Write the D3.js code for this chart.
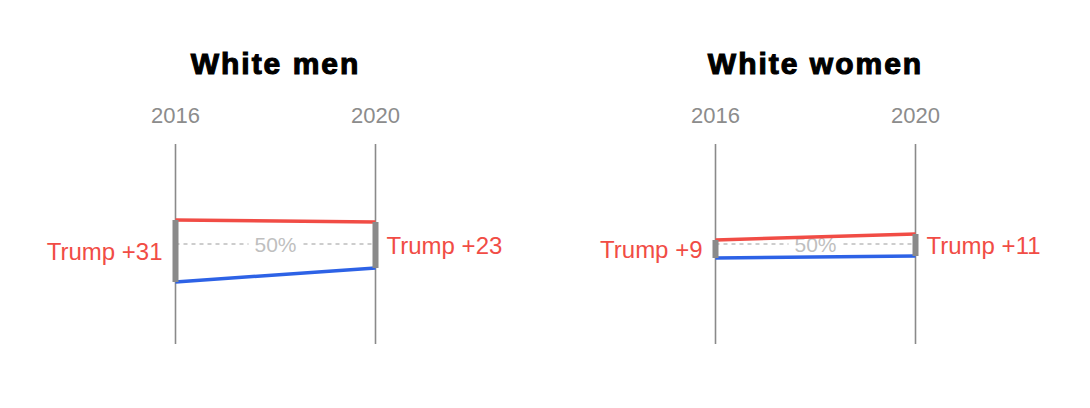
<!DOCTYPE html>
<html>
<head>
<meta charset="utf-8">
<script src="https://cdn.jsdelivr.net/npm/d3@7"></script>
<style>
  html, body { margin: 0; padding: 0; background: #fff; }
  svg { display: block; }
  text { font-family: "Liberation Sans", Arial, Helvetica, sans-serif; }
</style>
</head>
<body>
<svg id="chart" width="1090" height="408"></svg>
<script>
const groups = ["White men", "White women"];
const years = ["2016", "2020"];
const trumpShare = [[62, 61], [52, 55]];
const clintonBidenShare = [[31, 38], [43, 44]];
const marginLabels = [["Trump +31", "Trump +23"], ["Trump +9", "Trump +11"]];
const refLabel = "50%";
const refValue = 50;

const RED = "#f14c45", BLUE = "#2d62e6", GRAY = "#8a8a8a";
const svg = d3.select("#chart");

const panelOffset = d3.scaleBand().domain(groups).range([0, 1080]).paddingInner(0);
const y = d3.scaleLinear().domain([0, 100]).range([344, 144]);

groups.forEach((g, gi) => {
  const ox = panelOffset(g);
  const x = d3.scalePoint().domain(years).range([175.5 + ox, 375.5 + ox]);
  const gEl = svg.append("g");
  const cx = (x(years[0]) + x(years[1])) / 2;

  gEl.append("text").attr("x", cx).attr("y", 74).attr("text-anchor", "middle")
    .attr("font-size", 30).attr("font-weight", 700).attr("fill", "#000")
    .attr("stroke", "#000").attr("stroke-width", 1.1).attr("letter-spacing", 2)
    .text(g);

  // year labels
  gEl.selectAll(".yr").data(years).join("text")
    .attr("x", d => x(d)).attr("y", 123).attr("text-anchor", "middle")
    .attr("font-size", 22).attr("fill", "#8c8c8c").text(d => d);

  // vertical axes
  gEl.selectAll(".ax").data(years).join("line")
    .attr("x1", d => x(d)).attr("x2", d => x(d))
    .attr("y1", y(100)).attr("y2", y(0))
    .attr("stroke", GRAY).attr("stroke-width", 1.6);

  // 50% reference dashed line
  gEl.append("line").attr("x1", x(years[0])).attr("x2", x(years[1]))
    .attr("y1", y(refValue)).attr("y2", y(refValue))
    .attr("stroke", "#bdbdbd").attr("stroke-width", 1.3).attr("stroke-dasharray", "4,4");
  gEl.append("rect").attr("x", cx - 27).attr("y", y(refValue) - 10).attr("width", 54).attr("height", 20).attr("fill", "#fff");
  gEl.append("text").attr("x", cx).attr("y", y(refValue)).attr("dy", "0.36em")
    .attr("text-anchor", "middle").attr("font-size", 21).attr("fill", "#bfbfbf").text(refLabel);

  // lines
  const line = d3.line().x((d, i) => x(years[i])).y(d => y(d));
  gEl.append("path").datum(trumpShare[gi]).attr("d", line).attr("fill", "none")
    .attr("stroke", RED).attr("stroke-width", 3.5);
  gEl.append("path").datum(clintonBidenShare[gi]).attr("d", line).attr("fill", "none")
    .attr("stroke", BLUE).attr("stroke-width", 3.5);

  // gap bars
  years.forEach((yr, i) => {
    const top = y(trumpShare[gi][i]), bot = y(clintonBidenShare[gi][i]);
    gEl.append("rect").attr("x", x(yr) - 3).attr("y", top).attr("width", 6)
      .attr("height", bot - top).attr("fill", GRAY);
    const mid = (top + bot) / 2;
    gEl.append("text")
      .attr("x", i === 0 ? x(yr) - 13 : x(yr) + 11)
      .attr("y", mid).attr("dy", "0.36em")
      .attr("text-anchor", i === 0 ? "end" : "start")
      .attr("font-size", 24).attr("fill", RED)
      .text(marginLabels[gi][i]);
  });
});
</script>
</body>
</html>
